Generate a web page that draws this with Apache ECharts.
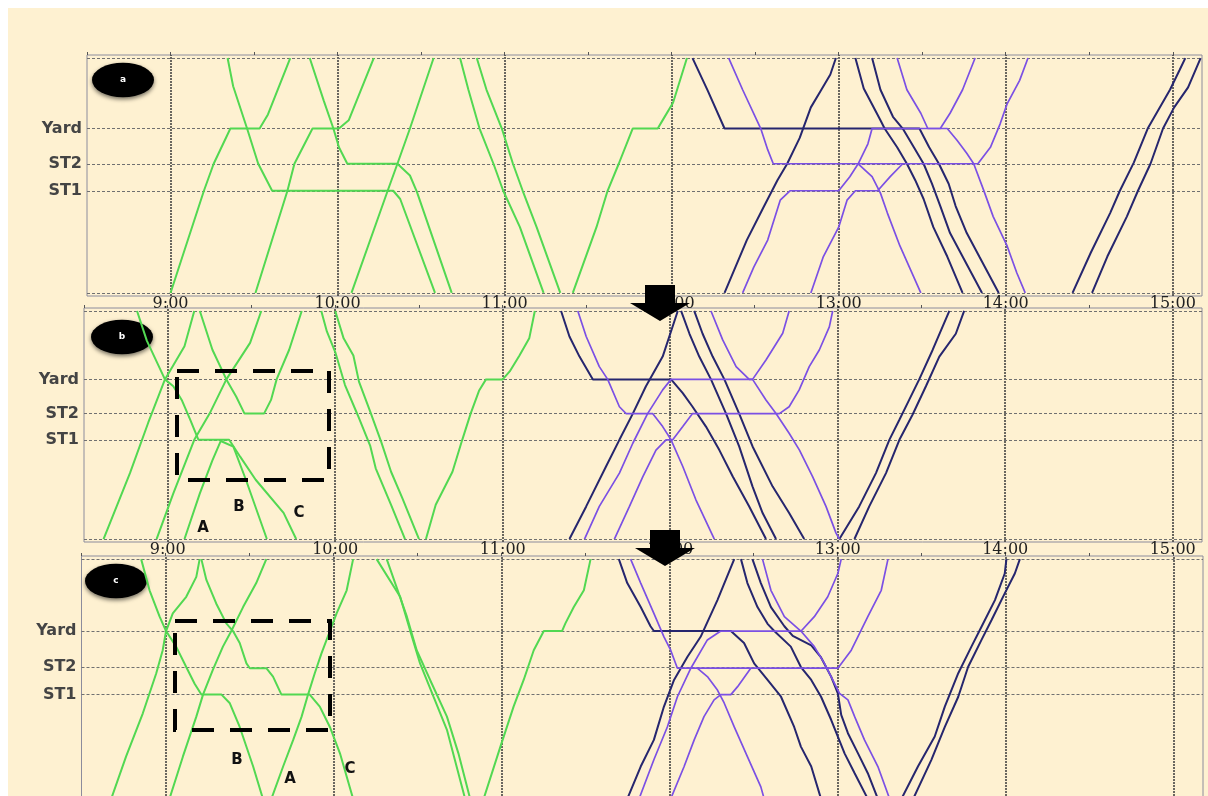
<!DOCTYPE html>
<html>
<head>
<meta charset="utf-8">
<script src="https://cdn.jsdelivr.net/npm/echarts@6/dist/echarts.min.js"></script>
<style>
  html, body { margin: 0; padding: 0; background: #fff; }
  #chart { width: 1208px; height: 796px; }
</style>
</head>
<body>
<div id="chart"></div>
<script>
// positions along the line: bottom end 0, top end 100
const stationNames = ['ST1', 'ST2', 'Yard']
const stationPos = [43.5, 55, 70]
// time axis in minutes after midnight
const hourTicks = [540, 600, 660, 720, 780, 840, 900]
const halfTicks = [510, 540, 570, 600, 630, 660, 690, 720, 750, 780, 810, 840, 870, 900]

// ---- panel a ----
const aGreen = [
  [[540,0],[552,43.5],[555.5,55],[561.5,70],[572,70],[575,76],[583,100]],
  [[560.5,100],[562.5,88],[567.5,70],[571.5,55],[576.5,43.5],[620,43.5],[622.5,40],[635,0]],
  [[590,100],[595,82],[598.5,70],[600.5,62],[603.5,55],[621.5,55],[626,50],[628.5,43],[641,0]],
  [[570.5,0],[582,43.5],[584.5,55],[591,70],[600.5,70],[604,73.5],[613,100]],
  [[605,0],[618,43.5],[621.5,55],[626,70],[634.5,100]],
  [[644,100],[647,86.5],[651,70],[656,55],[659.5,43.5],[665.5,28],[674,0]],
  [[650,100],[653.5,86.5],[659,70],[663,55],[666.5,43.5],[671.5,28],[680,0]],
  [[684.5,0],[693,28],[697,43.5],[701,55],[706,70],[715,70],[717,74],[720.5,81],[725.5,100]]
]
const aNavy = [
  [[727.5,100],[733,86],[739,70],[809,70],[812.5,62],[816,55],[819.5,46.5],[822,37],[826,25.5],[830.5,15.5],[837.5,0]],
  [[786,100],[789,87],[795,73.5],[796.5,70],[801,62],[804.5,55],[807.5,48],[810.5,40],[814,28],[819,15.5],[824.5,0]],
  [[792,100],[795,86.5],[799.5,75],[803,70],[807,62],[810.5,55],[813.5,46.5],[816.5,37],[820,25.5],[824.5,15.5],[831.5,0]],
  [[739,0],[747,22.5],[753,36.5],[758,48],[761.5,55],[766,66],[770,79],[773.5,86],[777,93],[779,100]],
  [[864,0],[870.5,17],[877.5,34],[881,43.5],[886,55.5],[891,70],[899,86.5],[902.5,95],[904.5,100]],
  [[871,0],[876.5,15.5],[883.5,32.5],[887.5,43.5],[892,55],[896.5,70],[900.5,79],[905.5,87.5],[910,100]]
]
const aPurple = [
  [[740.5,100],[745.5,86.5],[752,70],[754.5,61],[756.5,55],[787,55],[792,49.5],[795,42.5],[797.5,34],[802,20],[809.5,0]],
  [[745.5,0],[749.5,11],[754.5,22.5],[759,39.5],[762.5,43.5],[780,43.5],[784,49.5],[787,55],[790.5,63.5],[792,70],[819,70],[822.5,65],[826,59.5],[828.5,55],[832,44],[835.5,32.5],[840.5,20],[844,8.5],[847,0]],
  [[770,0],[774.5,15.5],[780,28],[783,39.5],[786,43.5],[794,43.5],[798.5,49.5],[803,55]],
  [[801,100],[804.5,86.5],[809.5,76.5],[812,70],[816.5,70],[820,76.5],[824.5,86.5],[829,100]],
  [[787,55],[830,55],[834.5,62],[838,72],[840.5,80.5],[845,90.5],[848,100]]
]

// ---- panel b ----
const bGreen = [
  [[529,100],[532.5,87],[539,70],[542,67],[545,61],[548,52.5],[551,43.5],[562,43.5],[566,36],[571.5,26],[581.5,11.5],[586,0]],
  [[517,0],[526.5,29],[533,51],[539,70],[546,84.5],[549.5,100]],
  [[536,0],[542,20],[549.5,43.5],[555,55],[561,70],[569.5,86],[573.5,100]],
  [[551.5,100],[556,83],[561,70],[564.5,62.5],[567.5,55],[574.5,55],[577,61],[579,70],[583.5,83],[588,100]],
  [[546,0],[551.5,20],[556,34.5],[559,43],[563.5,40.5],[568,26],[575.5,0]],
  [[595,100],[597,91],[600,82],[603.5,67.5],[608,54.5],[612.5,41],[614.5,31],[620,15],[625,0]],
  [[600,100],[603,88],[606.5,80.5],[608.5,69],[612.5,56],[616.5,42.5],[620,29.5],[624,18],[630,0]],
  [[632.5,0],[636,15],[642,29.5],[645.5,43.5],[648.5,55],[651.5,65],[654,70],[660,70],[662.5,73.5],[666,80.5],[669.5,88],[671.5,100]]
]
const bNavy = [
  [[680.9,100],[683.9,88.8],[687.5,80],[692.3,70],[720.3,70],[724.5,64],[728,58],[732.8,49.3],[737.6,39],[742.4,27.4],[748.3,14.3],[754.3,0]],
  [[683.9,0],[689.9,14.3],[697,31.8],[701.8,43.5],[706.6,55],[711.3,67],[717.3,80],[722.7,100]],
  [[723.9,100],[726.9,90],[730.4,80],[734.6,70],[740,55],[744.7,40.6],[749.5,23],[753.1,11.4],[757.9,0]],
  [[728.6,100],[731.6,90],[735.2,80],[739.4,70],[744.7,55],[749.5,40.6],[756.7,23],[762.6,11.4],[768,0]],
  [[780.6,0],[787.7,14.3],[793.7,28.9],[798.5,43.5],[802.1,52.3],[805.6,61],[809.2,70],[814,82.9],[820,100]],
  [[786,0],[791.3,14.3],[797.3,28.9],[802.1,43.5],[806.8,54.5],[811.6,67],[816.4,80],[822.3,90],[825.3,100]]
]
const bPurple = [
  [[686.9,100],[689.9,88.8],[694.6,75.6],[697.6,70],[701.8,58],[704.2,55],[713.7,55],[717.3,49.3],[720.3,43.5],[724.5,31.8],[729.2,17.2],[735.8,0]],
  [[689.3,0],[694.6,14.3],[701.8,28.9],[706.6,42],[711.9,55],[717.3,65.4],[720.3,70],[749.5,70],[754.3,61],[757.9,55],[762.6,46.4],[766.3,39],[771,27.4],[775.8,14.3],[779.4,2.6],[780.6,0]],
  [[700,0],[705.4,14.3],[710.2,27.4],[714.9,39],[718.5,43.5],[720.9,43.5],[724.5,49.3],[728,55],[759.1,55],[762.6,58],[766.2,65.4],[769.8,75.6],[773.4,82.9],[777,93],[778.2,100]],
  [[734.6,100],[738.8,87.3],[743.6,75.6],[748.3,70],[749.5,70],[754.3,78.5],[760.3,90.2],[762.6,100]]
]

// ---- panel c ----
const cGreen = [
  [[531.3,100],[534.3,87],[537.9,76],[540.2,70],[543.8,63.5],[547.4,55],[550.4,48],[552.8,43.5],[560,43.5],[562.9,40],[566.5,30],[571.3,13.5],[574.8,0]],
  [[520.6,0],[525.9,17.6],[531.9,35.7],[536.7,52.4],[539,62],[540.2,70],[542.6,77.4],[547.4,84.3],[551,92.6],[552.2,100]],
  [[541.4,0],[546.2,17.6],[551,34.3],[553.4,43.5],[556.9,53.8],[560.5,63.5],[563.5,70],[567.7,80],[572.4,90],[576,100]],
  [[552.8,100],[554.6,91.3],[558.1,81.5],[561.7,73.2],[564.1,70],[566.5,65],[568.9,56.5],[570.1,54.5],[576,54.5],[578.4,51],[581.4,43.5],[591.5,43.5],[595.1,38.5],[598.7,30],[602.3,19],[607,0]],
  [[577.8,0],[582,13.5],[585.6,24.6],[588.6,34.3],[590.9,43.5],[593.3,52.4],[595.7,60.7],[598.7,70],[601.1,77.4],[604.7,87],[607,100]],
  [[615.4,100],[623.8,84.3],[627.3,70.4],[630.9,56.5],[635.7,42.6],[640.5,28.8],[647,0]],
  [[619,100],[626.2,76],[629.7,62],[634.5,49.6],[640.5,34.3],[644.6,19],[648.8,0]],
  [[653.6,0],[659.6,21.8],[664.3,38.5],[667.9,49.6],[671.5,62],[675.1,70],[681.6,70],[682.8,73.2],[685.8,80],[689.4,87],[691.8,100]]
]
const cNavy = [
  [[701.9,100],[704.9,90],[709.7,80],[713.2,72],[714.4,70],[741.9,70],[746.6,65],[750.2,56.5],[755,49.6],[759.8,42.6],[764.5,30],[766.9,21.8],[770.6,13.5],[774.1,0]],
  [[745.5,100],[747.8,90],[751.4,80],[755,73],[757.4,70],[763.3,63.5],[766.9,55],[770.6,49.6],[774.1,42.6],[777.7,33],[780.1,26],[782.5,19],[786.1,10.7],[790.8,0]],
  [[749.6,100],[752.6,90],[756.2,80],[761,72],[764,68],[770.6,64],[774.1,59],[777.7,51],[780.1,44],[781.3,35],[783.7,27.4],[787.3,19],[790.8,10.7],[794.4,0]],
  [[704.9,0],[709.7,13.5],[714.4,24.6],[718,38.5],[721.6,49.6],[726.4,59.3],[731.1,67.6],[737.1,82.9],[743.1,100]],
  [[802.8,0],[808.7,13.5],[814.7,26],[818.3,38.5],[823.1,52.4],[827.8,63.5],[831.4,71.8],[836.2,82.9],[839.7,94],[840.3,100]],
  [[807,0],[813.5,16.3],[818.3,30],[823.1,42.6],[826.6,55],[831.4,66.3],[835,74.6],[839.7,85.7],[843.3,94],[845.1,100]]
]
const cPurple = [
  [[706.1,100],[709.7,90],[714.4,77.4],[718,67.6],[720.4,62],[722.8,54.5],[780.1,54.5],[784.9,62],[790.8,76],[795.6,87],[798,100]],
  [[709.1,0],[714.4,16.3],[719.2,30],[722.8,42.6],[727.6,54.5],[733.5,66.3],[738.3,70],[767,70],[771.7,76],[776.5,84.3],[780.1,94],[781.3,100]],
  [[720.4,0],[725.2,13.5],[728.8,24.6],[732.3,34.3],[735.9,41.3],[738.3,43.5],[741.9,43.5],[744.3,46.8],[749,54.5]],
  [[729.9,54.5],[733.5,51],[737.1,45.4],[739.5,40],[743.1,30],[747.8,17.6],[752.6,5],[753.8,0]],
  [[753.2,100],[756.2,87],[761,76],[766.9,70],[771.7,63.5],[775.3,56.5],[778.9,48.2],[780.7,44],[783.7,41.3],[786.1,34.3],[789.6,24.6],[794.4,13.5],[798.6,0]]
]

const GREEN = '#52d852'
const NAVY = '#26266e'
const PURPLE = '#7b50e4'
const BG = '#fef1d1'

const panels = [
  { grid: { left: 87, right: 6, top: 55, height: 241 }, green: aGreen, navy: aNavy, purple: aPurple },
  { grid: { left: 84, right: 6, top: 308, height: 234 }, green: bGreen, navy: bNavy, purple: bPurple },
  { grid: { left: 81.5, right: 5, top: 556, height: 246 }, green: cGreen, navy: cNavy, purple: cPurple }
]

const fmtTime = v => Math.floor(v / 60) + ':' + String(v % 60).padStart(2, '0')

const grids = [], xAxes = [], yAxes = [], series = []
panels.forEach((p, i) => {
  grids.push(Object.assign({
    show: true, borderColor: '#8c8c9c', borderWidth: 1, backgroundColor: 'transparent',
    containLabel: false, outerBoundsMode: 'none'
  }, p.grid))
  xAxes.push({
    type: 'value', gridIndex: i, min: 510, max: 910.5, position: 'bottom',
    axisLine: { show: false }, splitLine: { show: false },
    axisTick: { show: false },
    axisLabel: {
      customValues: hourTicks, formatter: fmtTime, margin: 0,
      fontFamily: 'DejaVu Serif', fontSize: 16, color: '#222', verticalAlign: 'top'
    }
  })
  xAxes.push({
    type: 'value', gridIndex: i, min: 510, max: 910.5, position: 'top',
    axisLine: { show: false }, splitLine: { show: false },
    axisTick: { show: true, customValues: halfTicks, length: 3, lineStyle: { color: '#555' } },
    axisLabel: { show: false }
  })
  yAxes.push({
    type: 'value', gridIndex: i, min: -1.3, max: 101.3,
    axisLine: { show: false }, axisTick: { show: false }, splitLine: { show: false },
    axisLabel: {
      customValues: stationPos, margin: 5,
      formatter: v => stationNames[stationPos.indexOf(v)],
      fontFamily: 'DejaVu Sans', fontSize: 16, fontWeight: 'bold', color: '#444'
    }
  })
  const add = (trains, color, width) => trains.forEach(d => series.push({
    type: 'line', xAxisIndex: i * 2, yAxisIndex: i, data: d,
    showSymbol: false, symbol: 'none', silent: true, z: 3,
    lineStyle: { color: color, width: width }
  }))
  // grid lines drawn on the first train of the panel
  const marks = hourTicks.map(h => ({ xAxis: h, lineStyle: { color: '#3a3a3a', width: 1.5, type: [2, 1] } }))
    .concat([0, 100].concat(stationPos).map(v => ({ yAxis: v, lineStyle: { color: '#707070', width: 1, type: [3, 2] } })))
  add(p.green, GREEN, 2)
  series[series.length - p.green.length].markLine = {
    silent: true, symbol: 'none', label: { show: false }, z: 1, animation: false, data: marks
  }
  add(p.navy, NAVY, 2)
  add(p.purple, PURPLE, 1.7)
})

const badge = (x, y, t) => ({
  type: 'group', x: x, y: y, z: 50, children: [
    { type: 'circle', scaleY: 0.56, shape: { cx: 0, cy: 0, r: 31 },
      style: { fill: '#000', shadowBlur: 4, shadowColor: 'rgba(0,0,0,0.55)', shadowOffsetY: 2 } },
    { type: 'text', style: { text: t, fill: '#fff', font: 'bold 9px DejaVu Sans', textAlign: 'center', textVerticalAlign: 'middle' } }
  ]
})
const arrow = (x, y) => ({
  type: 'polygon', z: 60,
  shape: { points: [[x - 15, y], [x + 15, y], [x + 15, y + 18], [x + 30, y + 18], [x, y + 36], [x - 30, y + 18], [x - 15, y + 18]] },
  style: { fill: '#000' }
})
const box = (x, y, w, h) => ({
  type: 'rect', z: 50, shape: { x: x, y: y, width: w, height: h },
  style: { fill: 'transparent', stroke: '#000', lineWidth: 4, lineDash: [22, 16] }
})
const letter = (x, y, t) => ({
  type: 'text', x: x, y: y, z: 50,
  style: { text: t, fill: '#111', font: 'bold 15px DejaVu Sans', textAlign: 'center', textVerticalAlign: 'middle' }
})

const chart = echarts.init(document.getElementById('chart'))
chart.setOption({
  animation: false,
  backgroundColor: BG,
  grid: grids,
  xAxis: xAxes,
  yAxis: yAxes,
  series: series,
  graphic: [
    { type: 'rect', z: 100, shape: { x: 0, y: 0, width: 1208, height: 8 }, style: { fill: '#fff' } },
    { type: 'rect', z: 100, shape: { x: 0, y: 0, width: 8, height: 796 }, style: { fill: '#fff' } },
    badge(123, 80, 'a'), badge(122, 337, 'b'), badge(116, 581, 'c'),
    arrow(660, 285), arrow(665, 530),
    box(177, 371, 152, 109), box(175, 621, 155, 109),
    letter(203, 528, 'A'), letter(239, 507, 'B'), letter(299, 513, 'C'),
    letter(237, 760, 'B'), letter(290, 779, 'A'), letter(350, 769, 'C')
  ]
})
</script>
</body>
</html>
